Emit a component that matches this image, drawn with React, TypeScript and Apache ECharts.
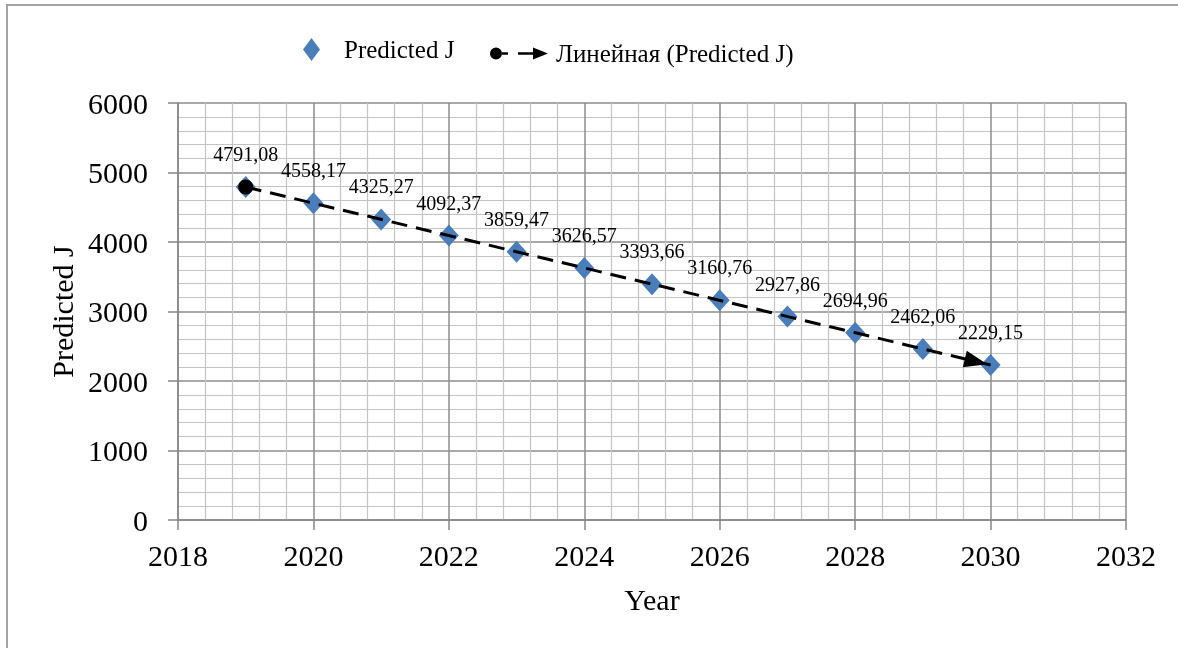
import React, { useEffect, useRef } from "react";
import * as echarts from "echarts";

// Forecast values by year
const years = [2019, 2020, 2021, 2022, 2023, 2024, 2025, 2026, 2027, 2028, 2029, 2030];
const predictedJ = [
  4791.08, 4558.17, 4325.27, 4092.37, 3859.47, 3626.57, 3393.66, 3160.76, 2927.86,
  2694.96, 2462.06, 2229.15,
];

const seriesName = "Predicted J";
const trendName = "Линейная (Predicted J)";
const xRange = [2018, 2032];
const xStep = 2;
const yRange = [0, 6000];
const yStep = 1000;

const FONT = "Liberation Serif";

// Least-squares linear trend through the points
function linearFit(xs: number[], ys: number[]) {
  const n = xs.length;
  const mx = xs.reduce((a, b) => a + b, 0) / n;
  const my = ys.reduce((a, b) => a + b, 0) / n;
  let sxy = 0;
  let sxx = 0;
  for (let i = 0; i < n; i++) {
    sxy += (xs[i] - mx) * (ys[i] - my);
    sxx += (xs[i] - mx) * (xs[i] - mx);
  }
  const slope = sxy / sxx;
  return { slope, intercept: my - slope * mx };
}

// Legend glyph for the trend line: dot, dashes and arrowhead
const trendIcon =
  "path://M0 7 A6 6 0 1 0 12 7 A6 6 0 1 0 0 7 Z M12 5.8 H18 V8.2 H12 Z M28 5.8 H43 V8.2 H28 Z M43 1 L58 7 L43 13 Z";

export default function App() {
  const ref = useRef<HTMLDivElement>(null);

  useEffect(() => {
    if (!ref.current) return;
    const chart = echarts.init(ref.current, undefined, { renderer: "svg" });
    const fit = linearFit(years, predictedJ);
    const x0 = years[0];
    const x1 = years[years.length - 1];

    const axisGray = "#868686";

    chart.setOption({
      animation: false,
      graphic: [
        {
          type: "rect",
          silent: true,
          z: -10,
          shape: { x: 7, y: 5, width: 1400, height: 900 },
          style: { fill: "none", stroke: "#a3a3a3", lineWidth: 2 },
        },
      ],
      legend: [
        {
          data: [{ name: seriesName, icon: "diamond" }],
          left: 298,
          top: 32,
          itemWidth: 17,
          itemHeight: 23,
          textStyle: { fontFamily: FONT, fontSize: 25, color: "#000", padding: [0, 0, 0, 19] },
        },
        {
          data: [{ name: trendName, icon: trendIcon, itemStyle: { color: "#000" } }],
          left: 485,
          top: 36,
          itemWidth: 58,
          itemHeight: 14,
          textStyle: { fontFamily: FONT, fontSize: 25, color: "#000", padding: [0, 0, 0, 3] },
        },
      ],
      grid: { left: 178, right: 52, top: 103, bottom: 128 },
      xAxis: {
        type: "value",
        min: xRange[0],
        max: xRange[1],
        interval: xStep,
        name: "Year",
        nameLocation: "middle",
        nameGap: 64,
        nameTextStyle: { fontFamily: FONT, fontSize: 30, color: "#000" },
        axisLine: { show: true, lineStyle: { color: axisGray, width: 1.5 } },
        axisTick: { show: true, length: 10, lineStyle: { color: axisGray, width: 1.5 } },
        axisLabel: {
          fontFamily: FONT,
          fontSize: 30,
          color: "#000",
          margin: 20,
          formatter: (v: number) => String(v),
        },
        splitLine: { show: true, lineStyle: { color: "#8c8c8c", width: 1.5 } },
        minorTick: { show: false, splitNumber: 5 },
        minorSplitLine: { show: true, lineStyle: { color: "#c4c4c4", width: 1.2 } },
      },
      yAxis: {
        type: "value",
        min: yRange[0],
        max: yRange[1],
        interval: yStep,
        name: "Predicted J",
        nameLocation: "middle",
        nameGap: 99,
        nameTextStyle: { fontFamily: FONT, fontSize: 30, color: "#000" },
        axisLine: { show: true, lineStyle: { color: axisGray, width: 1.5 } },
        axisTick: { show: true, length: 10, lineStyle: { color: axisGray, width: 1.5 } },
        axisLabel: {
          fontFamily: FONT,
          fontSize: 30,
          color: "#000",
          margin: 30,
          formatter: (v: number) => String(v),
        },
        splitLine: { show: true, lineStyle: { color: "#8c8c8c", width: 1.5 } },
        minorTick: { show: false, splitNumber: 5 },
        minorSplitLine: { show: true, lineStyle: { color: "#c4c4c4", width: 1.2 } },
      },
      series: [
        {
          name: seriesName,
          type: "scatter",
          symbol: "diamond",
          symbolSize: [20, 22],
          itemStyle: { color: "#4a7ebb", opacity: 1 },
          data: years.map((y, i) => [y, predictedJ[i]]),
          z: 2,
          label: {
            show: true,
            position: "top",
            distance: 12,
            fontFamily: FONT,
            fontSize: 20,
            color: "#000",
            opacity: 1,
            formatter: (p: any) => p.value[1].toFixed(2).replace(".", ","),
          },
        },
        {
          name: trendName,
          type: "scatter",
          data: [],
          itemStyle: { color: "#000", opacity: 1 },
          z: 3,
          markLine: {
            silent: true,
            animation: false,
            label: { show: false },
            lineStyle: { color: "#000", width: 3, type: [16, 9], opacity: 1 },
            data: [
              [
                {
                  coord: [x0, fit.slope * x0 + fit.intercept],
                  symbol: "circle",
                  symbolSize: 15,
                },
                {
                  coord: [x1, fit.slope * x1 + fit.intercept],
                  symbol: "triangle",
                  symbolSize: [17, 23],
                  symbolOffset: [0, 15],
                },
              ],
            ],
          },
        },
      ],
    });

    return () => chart.dispose();
  }, []);

  return <div ref={ref} style={{ position: "fixed", left: 0, top: 0, width: 1178, height: 648 }} />;
}
